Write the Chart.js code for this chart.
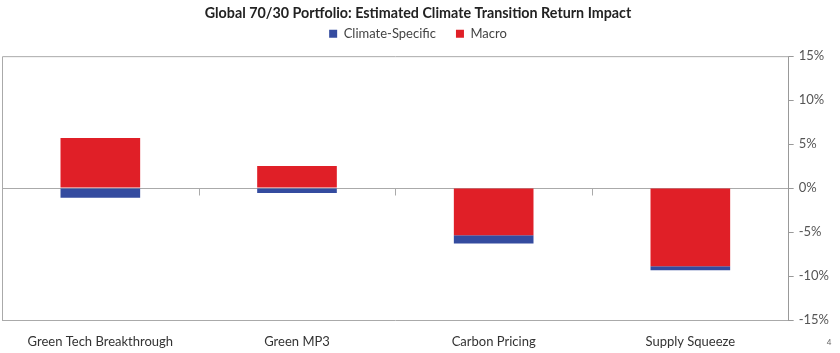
<!DOCTYPE html>
<html>
<head>
<meta charset="utf-8">
<script src="https://cdn.jsdelivr.net/npm/chart.js@4.4.1/dist/chart.umd.min.js"></script>
<style>
  html, body { margin: 0; padding: 0; background: #fff; }
  #wrap { width: 840px; height: 353px; }
</style>
</head>
<body>
<div id="wrap"><canvas id="chart" width="840" height="353"></canvas></div>
<script>
const categories = ['Green Tech Breakthrough', 'Green MP3', 'Carbon Pricing', 'Supply Squeeze'];
const climateSpecific = [-1.1, -0.55, -0.95, -0.45];
const macro = [5.7, 2.5, -5.35, -8.9];
const yTicks = [-15, -10, -5, 0, 5, 10, 15];
const pageNumber = '4';

Chart.defaults.font.family = 'Lato, "Open Sans", sans-serif';
Chart.defaults.color = '#444';

// legend: wide gaps between items, extra room below it
const legendFit = {
    id: 'legendFit',
    beforeInit(chart) {
        const fit = chart.legend.fit;
        chart.legend.fit = function () {
            fit.call(this);
            this.height += 6;
        };
    }
};

// box round the plot, small category ticks under the zero line, page number
const frame = {
    id: 'frame',
    afterDatasetsDraw(chart) {
        const { ctx, chartArea: a, scales } = chart;
        const x = scales.x, y = scales.y;
        const zero = Math.round(y.getPixelForValue(0)) + 0.5;
        const half = (x.getPixelForValue(1) - x.getPixelForValue(0)) / 2;
        ctx.save();
        ctx.strokeStyle = '#aaa';
        ctx.lineWidth = 1;
        ctx.beginPath();
        ctx.moveTo(a.right, a.top + 0.5);
        ctx.lineTo(a.left + 0.5, a.top + 0.5);
        ctx.lineTo(a.left + 0.5, a.bottom);
        for (let i = 1; i < categories.length; i++) {
            const px = Math.round(x.getPixelForValue(i) - half) + 0.5;
            ctx.moveTo(px, zero);
            ctx.lineTo(px, zero + 7);
        }
        ctx.stroke();
        ctx.fillStyle = '#666';
        ctx.font = '8px Lato';
        ctx.textAlign = 'center';
        ctx.fillText(pageNumber, chart.width - 11, chart.height - 11);
        ctx.restore();
    }
};

const data = {
    labels: categories,
    datasets: [
        {
            label: 'Climate-Specific',
            data: climateSpecific,
            backgroundColor: '#344b9f',
            order: 1,
        },
        {
            label: 'Macro',
            data: macro,
            backgroundColor: '#e01f27',
            order: 0,
        }
    ],
};

const config = {
    type: 'bar',
    data: data,
    options: {
        responsive: false,
        animation: false,
        categoryPercentage: 1,
        barPercentage: 0.405,
        layout: { padding: { left: 2, right: 6, top: 0, bottom: 3 } },
        scales: {
            x: {
                stacked: true,
                grid: { display: false, drawTicks: false, tickLength: 0 },
                border: { display: true, color: '#aaa' },
                ticks: { font: { size: 13 }, color: '#333', padding: 14, maxRotation: 0 },
                afterFit: (s) => { s.height = 30; },
            },
            y: {
                stacked: true,
                position: 'right',
                min: -15,
                max: 15,
                afterBuildTicks: (scale) => {
                    scale.ticks = yTicks.map(v => ({ value: v }));
                },
                grid: {
                    color: (c) => (c.tick && c.tick.value === 0 ? '#aaa' : 'rgba(0,0,0,0)'),
                    tickColor: '#999',
                    tickLength: 5,
                },
                border: { display: true, color: '#999' },
                ticks: {
                    font: { size: 13 },
                    color: '#555',
                    padding: 5,
                    callback: (v) => v + '%',
                },
            }
        },
        plugins: {
            title: {
                display: true,
                text: 'Global 70/30 Portfolio: Estimated Climate Transition Return Impact',
                font: { size: 14.3, weight: 'bold' },
                color: '#222',
                padding: { top: 5, bottom: -15 },
            },
            legend: {
                labels: {
                    boxWidth: 8,
                    boxHeight: 8,
                    font: { size: 13 },
                    color: '#444',
                    padding: 20,
                    sort: (a, b) => a.datasetIndex - b.datasetIndex,
                },
            },
            tooltip: { enabled: false },
        },
    },
    plugins: [legendFit, frame],
};

const chart = new Chart(document.getElementById('chart'), config);
</script>
</body>
</html>
